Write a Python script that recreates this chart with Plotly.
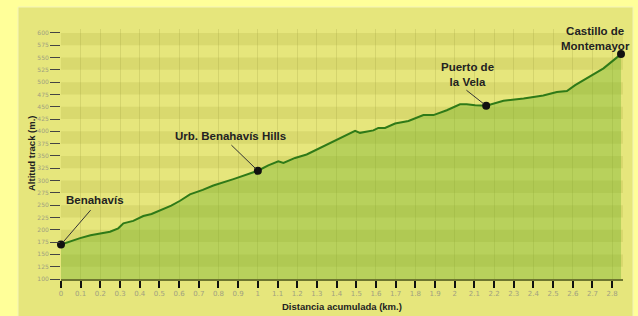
import plotly.graph_objects as go

# ---- data ----
distance_km = [0.0, 0.05, 0.097, 0.15, 0.198, 0.249, 0.291, 0.317, 0.367, 0.418, 0.46, 0.52,
               0.56, 0.605, 0.655, 0.72, 0.774, 0.876, 0.943, 1.0, 1.053, 1.104, 1.13, 1.189,
               1.248, 1.299, 1.367, 1.40, 1.494, 1.519, 1.587, 1.612, 1.646, 1.697, 1.765,
               1.841, 1.892, 1.96, 2.027, 2.061, 2.104, 2.16, 2.248, 2.35, 2.45, 2.519, 2.57,
               2.612, 2.68, 2.756, 2.845]
altitude_m = [170, 177, 183, 189, 193, 196, 203, 213, 218, 228, 232, 242,
              249, 259, 272, 281, 290, 303, 312, 320, 331, 339, 336, 346,
              353, 363, 375, 382, 401, 397, 402, 407, 407, 416, 421,
              433, 433, 443, 455, 455, 453, 452, 462, 467, 473, 480, 482,
              494, 510, 528, 557]

poi_names = ["Benahavís", "Urb. Benahavís Hills", "Puerto de<br>la Vela", "Castillo de<br>Montemayor"]
poi_km = [0.0, 1.0, 2.16, 2.845]
poi_alt = [170, 320, 452, 557]

x_tickvals = [round(i * 0.1, 1) for i in range(29)]
x_ticktext = ["0" if v == 0 else ("%g" % v) for v in x_tickvals]
y_tickvals = list(range(100, 601, 25))

# label placement (text centre) and leader-line tails
label_km = [0.173, 0.863, 2.067, 2.715]
label_alt = [261, 390, 516, 588]
leader_km = [0.157, 0.858, 2.052, None]
leader_alt = [243, 375, 486, None]

fig = go.Figure()

fig.add_trace(go.Scatter(
    x=distance_km, y=altitude_m, mode="lines",
    line=dict(color="#2f7a18", width=2),
    fill="tozeroy", fillcolor="rgba(110,175,40,0.38)",
    hoverinfo="skip", showlegend=False))

fig.add_trace(go.Scatter(
    x=poi_km, y=poi_alt, mode="markers",
    marker=dict(color="#111111", size=8),
    showlegend=False, cliponaxis=False))

shapes = []
# outer panel
shapes.append(dict(type="rect", xref="paper", yref="paper", x0=-0.0765, x1=1.0178,
                   y0=-0.2, y1=1.088, fillcolor="#e6e67c",
                   line=dict(color="#f3f3b8", width=1), layer="below"))
# horizontal bands
for lo in range(125, 600, 50):
    shapes.append(dict(type="rect", xref="paper", yref="y", x0=0, x1=1,
                       y0=lo, y1=lo + 25, fillcolor="rgba(190,190,80,0.30)",
                       line=dict(width=0), layer="below"))
# green gradient bar on the left
nseg = 50
y_lo, y_hi = 100, 608
for i in range(nseg):
    t = i / (nseg - 1)
    r = int(170 + (20 - 170) * t)
    g = int(200 + (110 - 200) * t)
    b = int(95 + (25 - 95) * t)
    shapes.append(dict(type="rect", xref="x", yref="y", xsizemode="pixel", xanchor=0,
                       x0=-8, x1=0,
                       y0=y_lo + (y_hi - y_lo) * i / nseg,
                       y1=y_lo + (y_hi - y_lo) * (i + 1) / nseg + 0.5,
                       fillcolor="rgb(%d,%d,%d)" % (r, g, b), line=dict(width=0),
                       layer="above"))

annotations = []
for name, lk, la in zip(poi_names, label_km, label_alt):
    annotations.append(dict(x=lk, y=la, xref="x", yref="y", text="<b>%s</b>" % name,
                            showarrow=False, xanchor="center", yanchor="middle",
                            font=dict(family="Liberation Sans, Arial",
                                      size=11.5, color="#222222"),
                            align="center"))
for pk, pa, tk, ta in zip(poi_km, poi_alt, leader_km, leader_alt):
    if tk is None:
        continue
    annotations.append(dict(x=pk, y=pa, xref="x", yref="y", ax=tk, ay=ta,
                            axref="x", ayref="y", text="", showarrow=True,
                            arrowhead=0, arrowwidth=1, arrowcolor="#333333",
                            standoff=3))
# axis titles
annotations.append(dict(x=0.5, y=0, xref="paper", yref="paper", yshift=-27,
                        xanchor="center", yanchor="middle",
                        text="<b>Distancia acumulada (km.)</b>", showarrow=False,
                        font=dict(family="Liberation Sans, Arial", size=9.5, color="#222222")))
annotations.append(dict(x=0, y=0.5, xref="paper", yref="paper", xshift=-30,
                        xanchor="center", yanchor="middle",
                        text="<b>Altitud track (m.)</b>", showarrow=False, textangle=-90,
                        font=dict(family="Liberation Sans, Arial", size=9.5, color="#222222")))

fig.update_layout(
    width=638, height=316,
    margin=dict(l=61, r=15, t=29, b=37),
    paper_bgcolor="#ffff99",
    plot_bgcolor="#e2e277",
    shapes=shapes, annotations=annotations,
    showlegend=False,
    xaxis=dict(range=[0, 2.855], tickvals=x_tickvals, ticktext=x_ticktext,
               ticks="outside", ticklen=7, tickwidth=2, tickcolor="#111111",
               showgrid=True, gridcolor="rgba(150,150,60,0.22)", gridwidth=1,
               showline=True, linecolor="#6e7630", linewidth=2,
               tickfont=dict(family="DejaVu Sans", size=7, color="#a0a080"),
               zeroline=False, fixedrange=True),
    yaxis=dict(range=[100, 608], tickvals=y_tickvals,
               ticks="outside", ticklen=10, tickwidth=1, tickcolor="#444444",
               showgrid=False, showline=False, zeroline=False,
               tickfont=dict(family="DejaVu Sans", size=6, color="#a0a080"),
               fixedrange=True),
)

fig.write_html("out.html", config={"displayModeBar": False},
               post_script="document.body.style.margin='0';document.body.style.overflow='hidden';")
